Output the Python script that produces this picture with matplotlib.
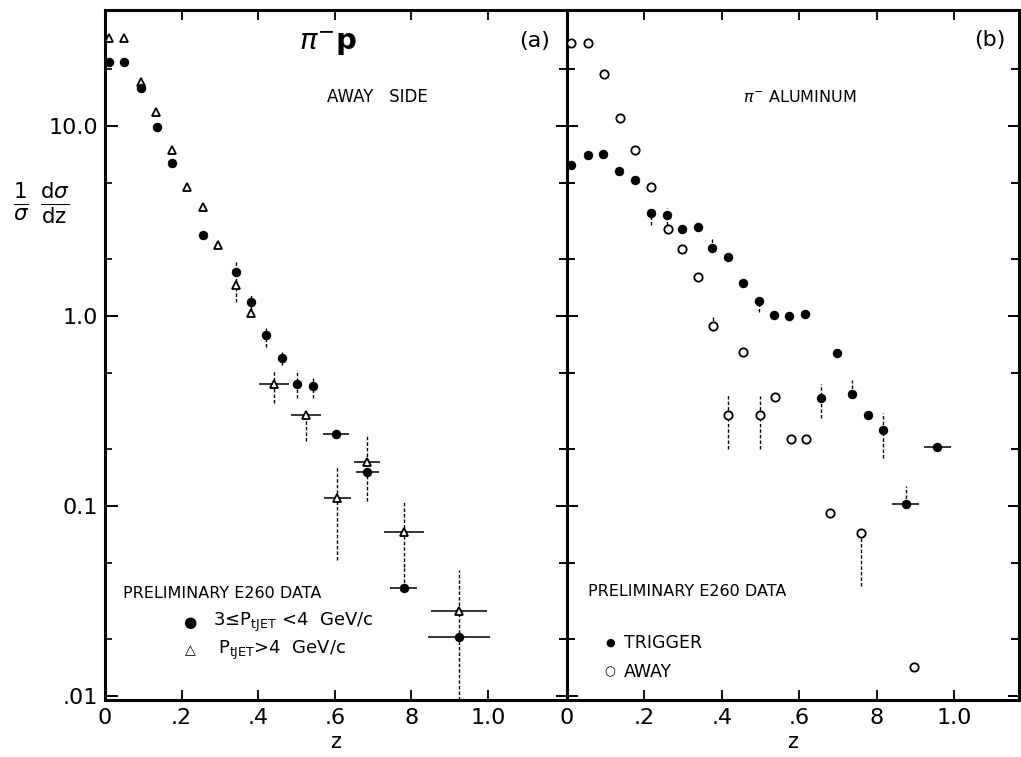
import matplotlib.pyplot as plt
from matplotlib.ticker import LogLocator, FixedLocator, FixedFormatter, NullFormatter

plt.rcParams['font.family'] = ['DejaVu Sans']
plt.rcParams['mathtext.fontset'] = 'dejavusans'

# (a) pi- p, away side
za_low = [0.01, 0.05, 0.095, 0.135, 0.175, 0.256, 0.342, 0.381, 0.42, 0.462,
          0.50, 0.543, 0.603, 0.684, 0.78, 0.924]
va_low = [21.7, 21.7, 15.8, 9.9, 6.4, 2.67, 1.71, 1.19, 0.79, 0.60,
          0.44, 0.43, 0.24, 0.151, 0.037, 0.0204]
xa_low = [0, 0, 0, 0, 0, 0, 0, 0, 0, 0, 0, 0, 0.033, 0.03, 0.035, 0.08]
ea_low_lo = [0, 0, 0, 0, 0, 0, 0.2, 0.12, 0.1, 0.05, 0.07, 0.06, 0, 0.045, 0, 0]
ea_low_hi = [0, 0, 0, 0, 0, 0, 0.25, 0.12, 0.07, 0.05, 0.08, 0.04, 0, 0, 0.012, 0]

za_high = [0.01, 0.05, 0.094, 0.133, 0.175, 0.214, 0.256, 0.295, 0.342, 0.381,
           0.441, 0.525, 0.606, 0.684, 0.78, 0.924]
va_high = [29, 29, 17, 11.8, 7.5, 4.8, 3.75, 2.37, 1.46, 1.04,
           0.44, 0.30, 0.11, 0.17, 0.073, 0.028]
xa_high = [0, 0, 0, 0, 0, 0, 0, 0, 0, 0, 0.04, 0.04, 0.035, 0.035, 0.053, 0.073]
ea_high_lo = [0, 0, 0, 0, 0, 0, 0, 0, 0.28, 0, 0.09, 0.08, 0.058, 0, 0.025, 0.0185]
ea_high_hi = [0, 0, 0, 0, 0, 0, 0, 0, 0, 0, 0.08, 0, 0.05, 0.07, 0.032, 0.018]

# (b) pi- aluminum
zb_trig = [0.01, 0.054, 0.093, 0.134, 0.175, 0.216, 0.257, 0.296, 0.337, 0.375,
           0.416, 0.455, 0.496, 0.535, 0.573, 0.614, 0.656, 0.697, 0.735, 0.776,
           0.815, 0.874, 0.956]
vb_trig = [6.2, 7.0, 7.1, 5.8, 5.2, 3.5, 3.4, 2.87, 2.95, 2.28,
           2.05, 1.49, 1.2, 1.01, 1.0, 1.03, 0.37, 0.64, 0.39, 0.30,
           0.25, 0.103, 0.205]
xb_trig = [0] * 21 + [0.035, 0.035]
eb_trig_lo = [0, 0, 0, 0, 0, 0.5, 0.4, 0, 0, 0, 0, 0, 0.15, 0, 0, 0,
              0.08, 0, 0, 0, 0.07, 0, 0]
eb_trig_hi = [0, 0, 0, 0, 0, 0, 0.3, 0, 0, 0.3, 0, 0, 0, 0, 0, 0,
              0.07, 0, 0.07, 0, 0.06, 0.024, 0]

zb_away = [0.01, 0.054, 0.095, 0.136, 0.175, 0.216, 0.26, 0.296, 0.337, 0.378,
           0.416, 0.455, 0.499, 0.537, 0.578, 0.617, 0.679, 0.758, 0.897]
vb_away = [27.4, 27.4, 18.8, 11.0, 7.5, 4.8, 2.87, 2.25, 1.6, 0.885,
           0.30, 0.65, 0.30, 0.375, 0.225, 0.225, 0.092, 0.072, 0.0142]
eb_away_lo = [0, 0, 0, 0, 0, 0, 0, 0, 0, 0, 0.10, 0, 0.10, 0, 0, 0, 0, 0.034, 0]
eb_away_hi = [0, 0, 0, 0, 0, 0, 0, 0, 0, 0.13, 0.09, 0, 0.08, 0, 0, 0, 0, 0, 0]

xticks = [0, 0.2, 0.4, 0.6, 0.8, 1.0]
xlabels_a = ['0', '.2', '.4', '.6', '8', '1.0']
xlabels_b = ['0', '.2', '.4', '.6', '8', '1.0']
yticks = [0.01, 0.1, 1.0, 10.0]
ylabels = ['.01', '0.1', '1.0', '10.0']

W, H = 1021, 757
fig = plt.figure(figsize=(W / 100, H / 100), dpi=100)
ax_a = fig.add_axes([105 / W, 57 / H, 462 / W, 690 / H])
ax_b = fig.add_axes([567 / W, 57 / H, 452 / W, 690 / H])


def draw_points(ax, z, v, xerr, lo, hi, marker, filled):
    ax.errorbar(z, v, xerr=xerr, fmt='none', ecolor='black', elinewidth=1.1)
    eb = ax.errorbar(z, v, yerr=[lo, hi], fmt='none', ecolor='black',
                     elinewidth=1.0)
    # the vertical bars come out broken on the plate
    eb[2][0].set_linestyle((0, (2.5, 1.5)))
    face = 'black' if filled else 'white'
    ax.plot(z, v, linestyle='none', marker=marker, ms=5.5 if filled else 6,
            mfc=face, mec='black', mew=1.3, zorder=5)


draw_points(ax_a, za_high, va_high, xa_high, ea_high_lo, ea_high_hi, '^', False)
draw_points(ax_a, za_low, va_low, xa_low, ea_low_lo, ea_low_hi, 'o', True)
draw_points(ax_b, zb_away, vb_away, 0, eb_away_lo, eb_away_hi, 'o', False)
draw_points(ax_b, zb_trig, vb_trig, xb_trig, eb_trig_lo, eb_trig_hi, 'o', True)

for ax, xmax, labels in ((ax_a, 1.206, xlabels_a), (ax_b, 1.167, xlabels_b)):
    ax.set_yscale('log')
    ax.set_ylim(0.00953, 40.8)
    ax.set_xlim(0, xmax)
    ax.xaxis.set_major_locator(FixedLocator(xticks))
    ax.xaxis.set_major_formatter(FixedFormatter(labels))
    ax.yaxis.set_minor_locator(LogLocator(base=10, subs=[2, 5]))
    ax.yaxis.set_minor_formatter(NullFormatter())
    ax.tick_params(axis='x', direction='in', length=7, width=1.3, top=True,
                   labelsize=16, pad=6)
    ax.set_xlabel('z', fontsize=15, labelpad=3)
    for s in ax.spines.values():
        s.set_linewidth(2.2)

ax_a.yaxis.set_major_locator(FixedLocator(yticks))
ax_a.yaxis.set_major_formatter(FixedFormatter(ylabels))
ax_a.tick_params(axis='y', which='major', direction='in', length=9, width=1.4,
                 labelsize=16, pad=5)
ax_a.tick_params(axis='y', which='minor', direction='in', length=5, width=1.2)
ax_a.spines['right'].set_visible(False)

ax_b.yaxis.set_major_locator(FixedLocator(yticks))
ax_b.tick_params(axis='y', which='both', direction='inout', labelleft=False,
                 right=True, width=1.4)
ax_b.tick_params(axis='y', which='major', length=16)
ax_b.tick_params(axis='y', which='minor', length=11)

# panel (a) annotations
ax_a.text(0.483, 0.952, r'$\pi^{-}$p', transform=ax_a.transAxes, fontsize=21,
          ha='center', va='center', fontweight='bold')
ax_a.text(0.929, 0.955, '(a)', transform=ax_a.transAxes, fontsize=16,
          ha='center', va='center')
ax_a.text(0.48, 0.874, 'AWAY   SIDE', transform=ax_a.transAxes, fontsize=12,
          ha='left', va='center')
ax_a.text(0.039, 0.155, 'PRELIMINARY E260 DATA', transform=ax_a.transAxes,
          fontsize=11.5, ha='left', va='center')
ax_a.text(0.184, 0.112, '●', transform=ax_a.transAxes, fontsize=11,
          ha='center', va='center')
ax_a.text(0.234, 0.112, r'3≤P$_{\mathrm{tJET}}$ <4  GeV/c',
          transform=ax_a.transAxes, fontsize=13, ha='left', va='center')
ax_a.text(0.184, 0.072, '△', transform=ax_a.transAxes, fontsize=10,
          ha='center', va='center')
ax_a.text(0.245, 0.072, r'P$_{\mathrm{tJET}}$>4  GeV/c',
          transform=ax_a.transAxes, fontsize=13, ha='left', va='center')

# panel (b) annotations
ax_b.text(0.936, 0.957, '(b)', transform=ax_b.transAxes, fontsize=16,
          ha='center', va='center')
ax_b.text(0.39, 0.874, r'$\pi^{-}$ ALUMINUM', transform=ax_b.transAxes,
          fontsize=11.5, ha='left', va='center')
ax_b.text(0.046, 0.157, 'PRELIMINARY E260 DATA', transform=ax_b.transAxes,
          fontsize=11.5, ha='left', va='center')
ax_b.text(0.095, 0.083, '●', transform=ax_b.transAxes, fontsize=8,
          ha='center', va='center')
ax_b.text(0.126, 0.083, 'TRIGGER', transform=ax_b.transAxes, fontsize=12.5,
          ha='left', va='center')
ax_b.text(0.095, 0.041, '○', transform=ax_b.transAxes, fontsize=9,
          ha='center', va='center')
ax_b.text(0.126, 0.041, 'AWAY', transform=ax_b.transAxes, fontsize=12.5,
          ha='left', va='center')

fig.text(0.041, 0.732,
         r'$\frac{\mathrm{1}}{\sigma}\ \frac{\mathrm{d}\sigma}{\mathrm{dz}}$',
         fontsize=22, ha='center', va='center')

fig.savefig('out.png', dpi=100)
